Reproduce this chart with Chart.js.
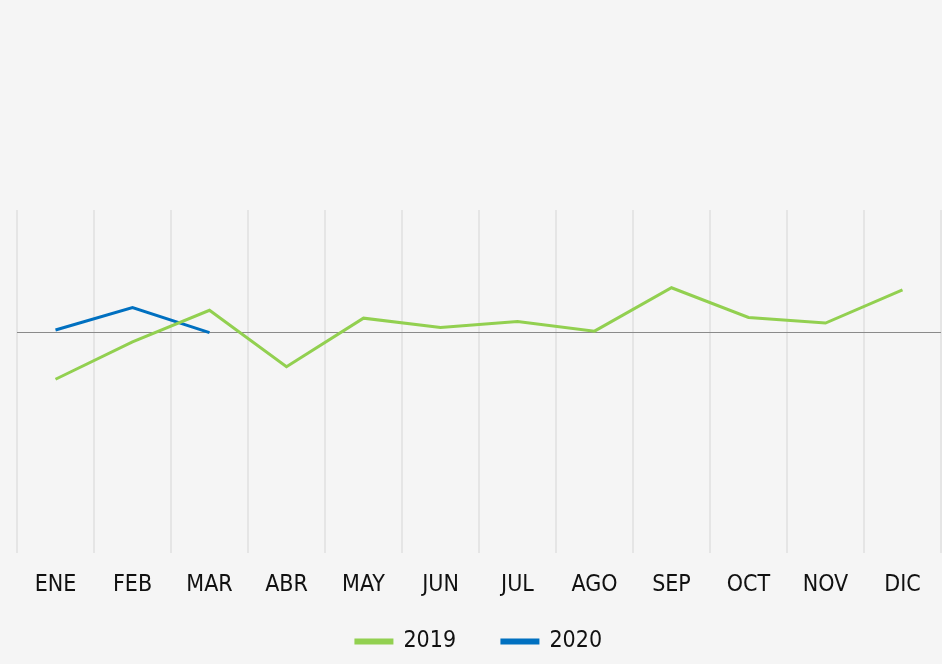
<!DOCTYPE html>
<html>
<head>
<meta charset="utf-8">
<script src="https://cdn.jsdelivr.net/npm/chart.js@4"></script>
<style>
  html, body { margin: 0; padding: 0; background: #f5f5f5; }
  #wrap { width: 942px; height: 664px; }
</style>
</head>
<body>
<div id="wrap"><canvas id="lineChart" width="942" height="664"></canvas></div>
<script>
const meses = ["ENE", "FEB", "MAR", "ABR", "MAY", "JUN", "JUL", "AGO", "SEP", "OCT", "NOV", "DIC"];
const serie2019 = [-1.90, -0.38, 0.91, -1.39, 0.59, 0.21, 0.45, 0.06, 1.83, 0.62, 0.39, 1.74];
const serie2020 = [0.11, 1.02, 0.0];

const fuente = "'Liberation Sans Narrow', 'DejaVu Sans Condensed', sans-serif";

const dataLineas = {
  labels: meses,
  datasets: [
    {
      label: "2019",
      data: serie2019,
      borderColor: "#92d050",
      backgroundColor: "#92d050",
      borderWidth: 3,
      pointRadius: 0,
      tension: 0,
    },
    {
      label: "2020",
      data: serie2020,
      borderColor: "#0070c0",
      backgroundColor: "#0070c0",
      borderWidth: 3,
      pointRadius: 0,
      tension: 0,
    },
  ],
};

const configLineas = {
  type: "line",
  data: dataLineas,
  options: {
    responsive: false,
    animation: false,
    layout: { padding: { top: 210, left: 17, right: 1, bottom: 1 } },
    scales: {
      x: {
        offset: true,
        border: { display: false },
        grid: {
          offset: true,
          color: "#e5e5e5",
          lineWidth: 2,
          drawTicks: false,
        },
        ticks: {
          color: "#111",
          padding: 18,
          font: { family: fuente, size: 23 },
        },
      },
      y: {
        min: -9,
        max: 5,
        border: { display: false },
        ticks: { display: false, stepSize: 1 },
        grid: {
          drawTicks: false,
          color: (ctx) => (ctx.tick && ctx.tick.value === 0 ? "#8a8a8a" : "rgba(0,0,0,0)"),
          lineWidth: 1,
        },
      },
    },
    plugins: {
      tooltip: { enabled: false },
      legend: {
        position: "bottom",
        labels: {
          color: "#111",
          boxWidth: 36,
          boxHeight: 3,
          padding: 13,
          font: { family: fuente, size: 23 },
          // wider gap between the two entries, as in the original
          generateLabels: (chart) => {
            const items = Chart.defaults.plugins.legend.labels.generateLabels(chart);
            items[0].text += "     ";
            return items;
          },
        },
      },
    },
  },
};

const graficoLineas = new Chart(document.getElementById("lineChart"), configLineas);
</script>
</body>
</html>
